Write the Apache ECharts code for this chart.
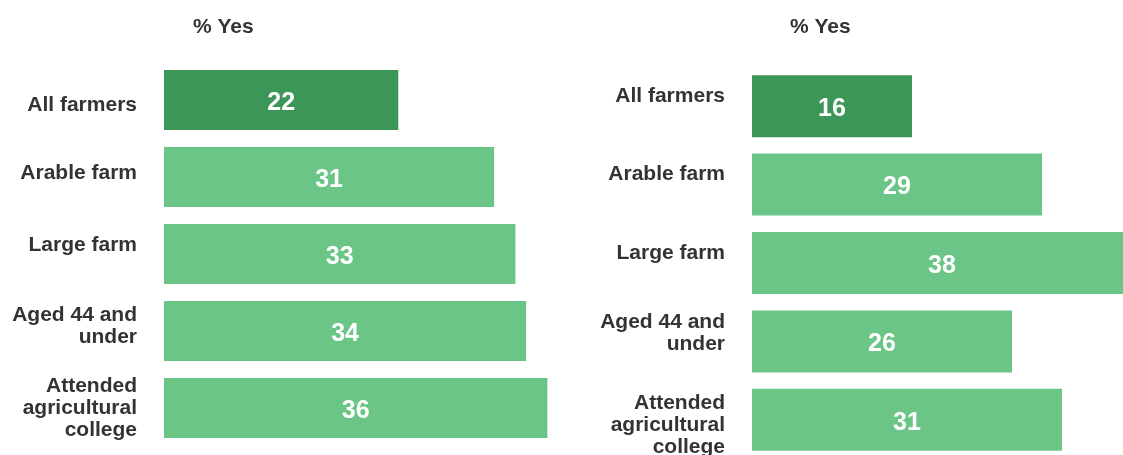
<!DOCTYPE html>
<html>
<head>
<meta charset="utf-8">
<script src="https://cdn.jsdelivr.net/npm/echarts@6/dist/echarts.min.js"></script>
<style>
  html, body { margin: 0; padding: 0; background: #fff; }
  #chart { width: 1123px; height: 455px; }
</style>
</head>
<body>
<div id="chart"></div>
<script>
// categories (same for both panels)
var categories = ['All farmers', 'Arable farm', 'Large farm', 'Aged 44 and\nunder', 'Attended\nagricultural\ncollege'];
var leftValues = [22, 31, 33, 34, 36];
var rightValues = [16, 29, 38, 26, 31];
var panelTitle = '% Yes';

var darkGreen = '#3b9657';
var lightGreen = '#6bc586';
var font = '"Liberation Sans", Arial, sans-serif';

// first bar is the highlighted "All farmers" bar
function barData(values) {
  return values.map(function (v, i) {
    return { value: v, itemStyle: { color: i === 0 ? darkGreen : lightGreen } };
  });
}

// label nudges: positive = blank space below (lifts label), negative = space above
var leftLift = [-10, 8, 18, 10, 0];
var rightLift = [20, 20, 20, 16, -10];

function yAxisFor(gridIndex, lift) {
  var rich = {};
  lift.forEach(function (d) {
    var h = Math.abs(d);
    if (h) rich['sp' + h] = { fontSize: 1, lineHeight: h, height: h };
  });
  return {
    type: 'category',
    gridIndex: gridIndex,
    inverse: true,
    data: categories,
    axisLine: { show: false },
    axisTick: { show: false },
    axisLabel: {
      margin: 27,
      color: '#333',
      fontFamily: font,
      fontWeight: 'bold',
      fontSize: 21,
      lineHeight: 22,
      align: 'right',
      formatter: function (v, i) {
        var d = lift[i];
        if (!d) return v;
        var sp = '{sp' + Math.abs(d) + '| }';
        return d > 0 ? v + '\n' + sp : sp + '\n' + v;
      },
      rich: rich
    }
  };
}

function xAxisFor(gridIndex) {
  return {
    type: 'value',
    gridIndex: gridIndex,
    min: 0,
    max: 40,
    show: false,
    splitLine: { show: false }
  };
}

function seriesFor(idx, values) {
  return {
    type: 'bar',
    xAxisIndex: idx,
    yAxisIndex: idx,
    data: barData(values),
    barWidth: idx === 0 ? 60 : 62,
    label: {
      show: true,
      position: 'inside',
      offset: [0, 3],
      color: '#fff',
      fontFamily: font,
      fontWeight: 'bold',
      fontSize: 25,
      formatter: '{c}'
    }
  };
}

var titleStyle = { fontFamily: font, fontWeight: 'bold', fontSize: 21, color: '#333' };

var option = {
  animation: false,
  title: [
    { text: panelTitle, left: 188, top: 12, textStyle: titleStyle },
    { text: panelTitle, left: 785, top: 12, textStyle: titleStyle }
  ],
  grid: [
    { left: 164, top: 61.5, width: 426, height: 385, outerBoundsMode: 'none' },
    { left: 752, top: 67, width: 400, height: 392, outerBoundsMode: 'none' }
  ],
  xAxis: [xAxisFor(0), xAxisFor(1)],
  yAxis: [yAxisFor(0, leftLift), yAxisFor(1, rightLift)],
  series: [seriesFor(0, leftValues), seriesFor(1, rightValues)]
};

echarts.init(document.getElementById('chart')).setOption(option);
</script>
</body>
</html>
